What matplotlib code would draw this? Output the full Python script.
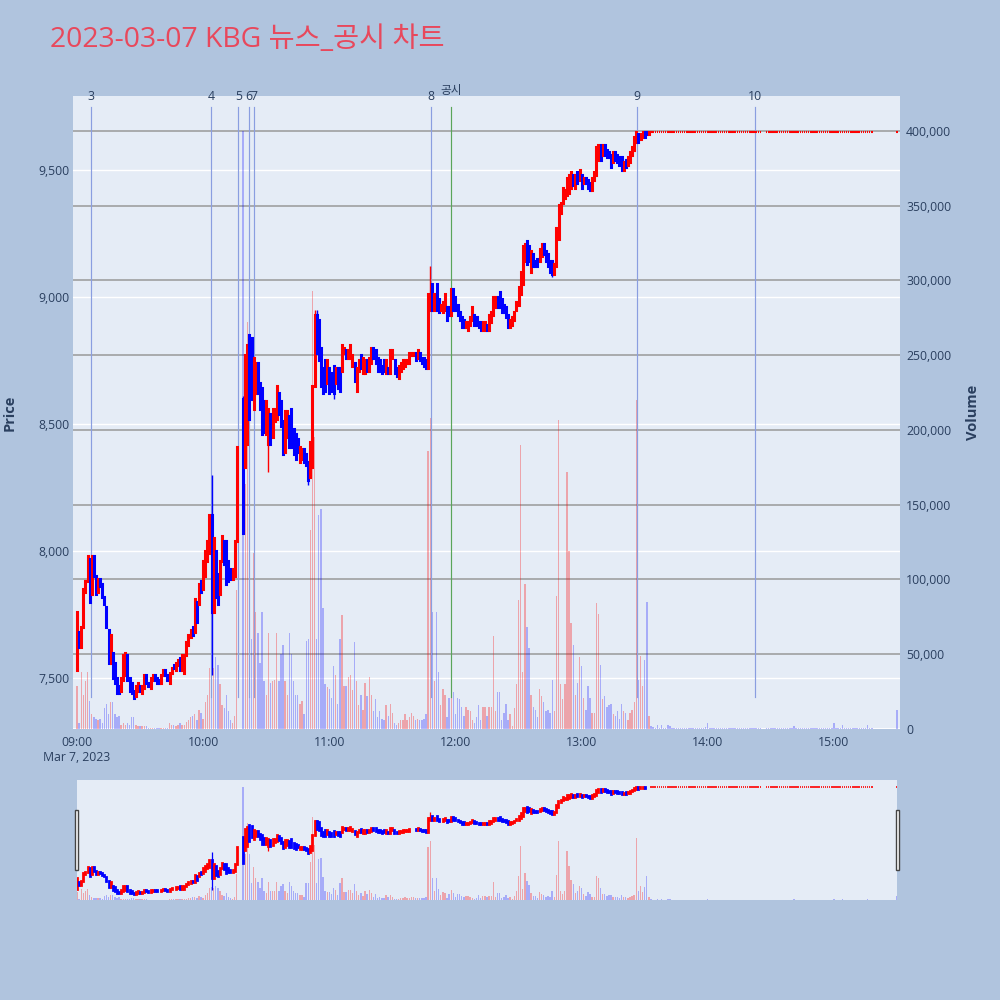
import matplotlib
matplotlib.use("Agg")
import matplotlib.pyplot as plt
from matplotlib.collections import LineCollection
from matplotlib.patches import Rectangle
from matplotlib.transforms import blended_transform_factory

plt.rcParams['font.family'] = ['Open Sans', 'Noto Sans CJK KR', 'DejaVu Sans']

# ---------------- data ----------------
title = "2023-03-07 KBG 뉴스_공시 차트"
session_start = "09:00"
date_label = "Mar 7, 2023"
vi_gap_minutes = [77, 78]            # minutes (from 09:00) without candles
flat_gap_minutes = [326, 327]
last_trade_minute = 272              # end of the active trading part
limit_end_minute = 378               # last flat candle before the closing auction
closing_minute = 390                 # 15:30 closing auction
limit_price = 9650

opens = [
    7530, 7680, 7620, 7700, 7840, 7880, 7970, 7830, 7980, 7900,
    7840, 7890, 7870, 7820, 7780, 7690, 7560, 7600, 7560, 7500,
    7470, 7450, 7490, 7510, 7590, 7500, 7480, 7450, 7430, 7450,
    7470, 7440, 7460, 7510, 7480, 7460, 7490, 7510, 7500, 7490,
    7480, 7510, 7530, 7510, 7480, 7520, 7550, 7530, 7550, 7580,
    7530, 7520, 7590, 7630, 7660, 7700, 7680, 7800, 7790, 7880,
    7850, 7900, 7960, 7990, 8140, 7760, 8000, 7910, 7830, 7960,
    8040, 8040, 7960, 7930, 7890, 7900, 8040,
    8600, 8330, 8420, 8850, 8840, 8560, 8620, 8740, 8660, 8640, 8590,
    8460, 8420, 8540, 8450, 8510, 8520, 8620, 8590, 8510, 8390,
    8450, 8530, 8560, 8480, 8460, 8440, 8350, 8360, 8400, 8380,
    8350, 8290, 8330, 8650, 8930, 8910, 8800, 8720, 8750, 8660,
    8720, 8700, 8730, 8660, 8720, 8720, 8710, 8780, 8790, 8760,
    8760, 8730, 8740, 8630, 8710, 8770, 8700, 8700, 8750, 8710,
    8740, 8800, 8790, 8760, 8750, 8730, 8750, 8700, 8720, 8700,
    8760, 8750, 8720, 8680, 8710, 8720, 8730, 8740, 8740, 8770,
    8770, 8780, 8760, 8780, 8760, 8760, 8750, 8720, 8950, 9050,
    8950, 9050, 8990, 8950, 8940, 8950, 8960, 8960, 8930, 9030,
    9000, 8970, 8940, 8920, 8910, 8880, 8870, 8890, 8910, 8930,
    8920, 8900, 8900, 8870, 8870, 8890, 8870, 8900, 8930, 8960,
    9000, 9020, 8990, 8970, 8960, 8930, 8880, 8890, 8910, 8950,
    8970, 9010, 9050, 9140, 9220, 9200, 9100, 9170, 9140, 9150,
    9140, 9160, 9210, 9180, 9170, 9140, 9140, 9090, 9120, 9230,
    9330, 9370, 9390, 9400, 9410, 9430, 9480, 9430, 9490, 9460,
    9480, 9450, 9470, 9460, 9450, 9420, 9460, 9480, 9540, 9600,
    9560, 9600, 9580, 9570, 9560, 9530, 9570, 9560, 9550, 9550,
    9500, 9540, 9520, 9530, 9560, 9580, 9610, 9640, 9620, 9630,
    9650, 9650, 9640,
]
closes = [
    7760, 7620, 7700, 7850, 7880, 7980, 7800, 7980, 7900, 7830,
    7890, 7860, 7820, 7790, 7700, 7560, 7670, 7500, 7480, 7440,
    7440, 7500, 7590, 7600, 7490, 7450, 7440, 7420, 7470, 7480,
    7450, 7470, 7510, 7480, 7470, 7500, 7510, 7490, 7480, 7480,
    7510, 7530, 7510, 7490, 7520, 7540, 7540, 7560, 7570, 7530,
    7590, 7590, 7640, 7670, 7690, 7670, 7810, 7720, 7870, 7840,
    7960, 8000, 8040, 8140, 7760, 8050, 7820, 7790, 7960, 8060,
    7950, 7870, 7880, 7890, 7930, 8040, 8410,
    8070, 8770, 8810, 8520, 8600, 8760, 8740, 8620, 8560, 8460, 8470,
    8590, 8560, 8420, 8560, 8560, 8650, 8540, 8490, 8380, 8550,
    8550, 8410, 8410, 8380, 8360, 8390, 8410, 8400, 8350, 8340,
    8280, 8430, 8650, 8930, 8780, 8750, 8650, 8620, 8630, 8750,
    8620, 8630, 8620, 8720, 8640, 8630, 8810, 8800, 8760, 8790,
    8810, 8770, 8670, 8720, 8750, 8720, 8760, 8750, 8710, 8760,
    8800, 8760, 8740, 8710, 8710, 8700, 8710, 8750, 8700, 8790,
    8790, 8700, 8690, 8730, 8740, 8750, 8750, 8750, 8780, 8780,
    8780, 8750, 8790, 8750, 8740, 8730, 8720, 9010, 9000, 8950,
    9010, 8950, 8940, 8970, 8980, 9010, 8910, 8930, 9030, 8950,
    8950, 8930, 8910, 8880, 8880, 8900, 8900, 8920, 8960, 8890,
    8890, 8880, 8870, 8900, 8900, 8870, 8930, 8940, 9000, 9000,
    8960, 8960, 8940, 8940, 8920, 8880, 8910, 8920, 8940, 8980,
    9040, 9100, 9200, 9210, 9130, 9140, 9180, 9120, 9120, 9120,
    9190, 9210, 9170, 9140, 9120, 9100, 9090, 9130, 9270, 9360,
    9370, 9430, 9420, 9470, 9480, 9490, 9440, 9480, 9450, 9500,
    9430, 9470, 9450, 9430, 9420, 9470, 9490, 9590, 9600, 9540,
    9600, 9560, 9550, 9550, 9510, 9570, 9540, 9530, 9520, 9500,
    9530, 9510, 9550, 9570, 9590, 9630, 9650, 9610, 9640, 9650,
    9630, 9640, 9650,
]
# extra wicks (minute -> price)
wick_highs = {64: 8300, 79: 8610, 113: 8950, 114: 8950, 168: 9120}
wick_lows = {64: 7510, 91: 8310, 110: 8260, 122: 8600, 226: 9080}

volumes_k = [
    29, 4, 38, 23, 32, 38, 19, 10, 8, 7,
    6, 7, 4, 14, 17, 10, 18, 18, 10, 8,
    9, 3, 4, 3, 4, 3, 8, 8, 3, 2,
    2, 2, 2, 2, 1, 1, 1, 1, 1, 1,
    1, 1, 1, 1, 4, 3, 3, 2, 3, 4,
    3, 3, 5, 6, 8, 9, 10, 6, 13, 11,
    7, 18, 23, 41, 45, 41, 48, 43, 30, 16,
    14, 23, 12, 6, 4, 9, 93,
    400, 164, 272, 164, 60, 118, 78, 64, 44, 78, 32,
    23, 64, 31, 32, 33, 64, 32, 50, 56, 32,
    23, 64, 50, 32, 23, 23, 17, 19, 10, 59,
    60, 133, 293, 195, 60, 143, 147, 81, 30, 28,
    27, 21, 42, 36, 17, 60, 76, 29, 29, 35,
    36, 26, 58, 32, 16, 23, 13, 31, 22, 35,
    23, 12, 20, 8, 12, 7, 6, 16, 9, 17,
    11, 4, 3, 4, 6, 6, 10, 6, 8, 11,
    9, 6, 7, 6, 6, 7, 10, 186, 208, 78,
    32, 78, 38, 16, 27, 23, 8, 21, 37, 25,
    10, 21, 20, 15, 9, 15, 13, 12, 6, 4,
    8, 16, 6, 15, 15, 9, 15, 15, 62, 12,
    25, 25, 6, 11, 17, 6, 10, 2, 14, 30,
    86, 190, 38, 97, 68, 54, 23, 15, 13, 8,
    27, 22, 18, 12, 13, 11, 33, 12, 89, 207,
    30, 20, 30, 172, 119, 71, 56, 23, 31, 48,
    42, 21, 13, 29, 21, 11, 11, 84, 77, 43,
    20, 22, 15, 16, 17, 10, 9, 12, 7, 17,
    12, 11, 6, 11, 13, 18, 220, 33, 49, 29,
    46, 85, 9,
]
flat_volumes_k = [
    2, 1.5, 1, 3, 1, 2.5, 1, 1, 3, 2,
    1, 0.5, 0.5, 1, 0.5, 0.5, 1, 0.5, 0.5, 0.5,
    0.5, 1, 0.5, 0.5, 0.5, 1, 1.5, 4, 1, 0.5,
    0.5, 0.5, 1, 1, 0.5, 0.5, 0.5, 0.5, 1, 0.5,
    0.5, 0.5, 1, 1, 0.5, 0.5, 0.5, 0.5, 0.5, 0.5, 0.5, 0.5, 0.5,
    0.5, 0.5, 0.5, 0.5, 0.5, 0.5, 0.5, 0.5, 0.5, 0.5,
    0.5, 0.5, 0.5, 2, 0.5, 0.5, 0.5, 0.5, 0.5, 0.5,
    0.5, 1, 1, 1, 0.5, 1, 1, 0.5, 0.5, 0.5,
    0.5, 1, 4, 0.5, 1, 0.5, 3, 0.5, 0.5, 0.5,
    0.5, 0.5, 0.5, 0.5, 0.5, 0.5, 0.5, 0.5, 3, 0.5, 0.5,
    13,
]

event_labels = ["3", "4", "5", "6", "7", "8", "공시", "9", "10"]
event_minutes = [6.7, 63.7, 76.8, 81.9, 84.2, 168.5, 178.0, 266.4, 322.6]
event_kinds = ["news", "news", "news", "news", "news", "news", "disclosure", "news", "news"]

price_ticks = [7500, 8000, 8500, 9000, 9500]
volume_ticks = [0, 50000, 100000, 150000, 200000, 250000, 300000, 350000, 400000]
time_ticks = [0, 60, 120, 180, 240, 300, 360]
time_labels = ["09:00", "10:00", "11:00", "12:00", "13:00", "14:00", "15:00"]

# ---------------- assemble series ----------------
active_minutes = [m for m in range(last_trade_minute + 1) if m not in vi_gap_minutes]
flat_minutes = [m for m in range(last_trade_minute + 1, limit_end_minute + 1)
                if m not in flat_gap_minutes] + [closing_minute]

all_minutes = active_minutes + flat_minutes
all_opens = opens + [limit_price] * len(flat_minutes)
all_closes = closes + [limit_price] * len(flat_minutes)
all_vols = [v * 1000 for v in volumes_k + flat_volumes_k]

RED = "#ff0000"
BLUE = "#0000ff"
BG = "#e5ecf6"
PAPER = "#b0c4de"
FONT_C = "#2a3f5f"


def draw_candles(ax, lw_body, lw_wick, doji_lw):
    body_segs, body_cols, wick_segs, wick_cols = [], [], [], []
    doji_x, doji_y = [], []
    for m, o, c in zip(all_minutes, all_opens, all_closes):
        col = RED if c >= o else BLUE
        hi = max(o, c, wick_highs.get(m, max(o, c)))
        lo = min(o, c, wick_lows.get(m, min(o, c)))
        if hi > max(o, c) or lo < min(o, c):
            wick_segs.append([(m, lo), (m, hi)])
            wick_cols.append(col)
        if o == c:
            doji_x.append(m)
            doji_y.append(o)
        else:
            body_segs.append([(m, o), (m, c)])
            body_cols.append(col)
    ax.add_collection(LineCollection(wick_segs, colors=wick_cols, linewidths=lw_wick, zorder=4))
    ax.add_collection(LineCollection(body_segs, colors=body_cols, linewidths=lw_body,
                                     capstyle='projecting', zorder=5))
    ax.hlines(doji_y, [x - 0.35 for x in doji_x], [x + 0.35 for x in doji_x],
              colors=RED, linewidth=doji_lw, zorder=5)


def draw_volume(ax):
    cols = [(1, 0, 0, 0.30) if c > o else (0, 0, 1, 0.27)
            for o, c in zip(all_opens, all_closes)]
    ax.bar(all_minutes, all_vols, width=0.65, color=cols, linewidth=0, zorder=2)


fig = plt.figure(figsize=(10, 10), dpi=100)
fig.patch.set_facecolor(PAPER)

# ---------------- main chart ----------------
ax_v = fig.add_axes([0.073, 0.271, 0.827, 0.633])
ax_v.set_facecolor(BG)
ax_p = ax_v.twinx()

xmin, xmax = -1.9, 391.4
pmin, pmax = 7299, 9791
vmax = 423400
ax_v.set_xlim(xmin, xmax)
ax_v.set_ylim(0, vmax)
ax_p.set_ylim(pmin, pmax)

for ax in (ax_v, ax_p):
    for s in ax.spines.values():
        s.set_visible(False)

# grid lines (drawn in bottom axes so they stay under the traces)
tr_price = blended_transform_factory(ax_v.transAxes, ax_p.transData)
for p in price_ticks:
    ax_v.plot([0, 1], [p, p], color="white", lw=1.0, transform=tr_price, zorder=0.5)
for v in volume_ticks[1:]:
    ax_v.axhline(v, color="#999999", lw=1.1, zorder=1)
ax_v.axhline(0, color="white", lw=2.0, zorder=1)

draw_volume(ax_v)

tr_ev = blended_transform_factory(ax_v.transData, ax_v.transAxes)
for lab, m, kind in zip(event_labels, event_minutes, event_kinds):
    col = "#5aa55a" if kind == "disclosure" else "#8a9ee0"
    ax_v.plot([m, m], [0.0506, 0.9826], color=col, lw=0.85, transform=tr_ev, zorder=3)
    if kind == "disclosure":
        ax_v.text(m, 1.0079, lab, transform=tr_ev, ha="center", va="center",
                  fontsize=8.4, color=FONT_C, zorder=6)
    else:
        ax_v.text(m, 0.9992, lab, transform=tr_ev, ha="center", va="center",
                  fontsize=8.8, color=FONT_C, zorder=6)

draw_candles(ax_p, lw_body=2.2, lw_wick=1.0, doji_lw=1.5)

# ticks
ax_p.yaxis.tick_left()
ax_v.yaxis.tick_right()
ax_p.set_yticks(price_ticks)
ax_p.set_yticklabels([f"{p:,}" for p in price_ticks])
ax_v.set_yticks(volume_ticks)
ax_v.set_yticklabels([f"{v:,}" for v in volume_ticks])
ax_v.set_xticks(time_ticks)
ax_v.set_xticklabels([time_labels[0] + "\n" + date_label] + time_labels[1:], linespacing=1.25)
ax_p.tick_params(axis="y", length=0, pad=2.5, labelsize=8.8, labelcolor=FONT_C)
ax_v.tick_params(axis="y", length=0, pad=4.5, labelsize=8.8, labelcolor=FONT_C)
ax_v.tick_params(axis="x", length=0, pad=5, labelsize=8.8, labelcolor=FONT_C)
ax_p.tick_params(axis="x", bottom=False, labelbottom=False)

fig.text(0.010, 0.5875, "Price", rotation=90, ha="center", va="center",
         fontsize=10.5, fontweight="bold", color=FONT_C)
fig.text(0.973, 0.5875, "Volume", rotation=90, ha="center", va="center",
         fontsize=10.5, fontweight="bold", color=FONT_C)
fig.text(0.05, 0.960, title, ha="left", va="center", fontsize=20.4, color="#e8485c")

# ---------------- range slider ----------------
sv = fig.add_axes([0.077, 0.100, 0.820, 0.120])
sv.set_facecolor(BG)
sp = sv.twinx()
sv.set_xlim(0, closing_minute)
sv.set_ylim(0, vmax)
sp.set_ylim(pmin, pmax)
for ax in (sv, sp):
    for s in ax.spines.values():
        s.set_visible(False)
    ax.set_xticks([])
    ax.set_yticks([])
draw_volume(sv)
draw_candles(sp, lw_body=2.0, lw_wick=0.9, doji_lw=1.2)

for hx in (0.0745, 0.8955):
    fig.patches.append(Rectangle((hx, 0.130), 0.0035, 0.060, transform=fig.transFigure,
                                 facecolor="white", edgecolor="#444444", lw=1.0, zorder=10))

fig.savefig("out.png", dpi=100, facecolor=PAPER)
